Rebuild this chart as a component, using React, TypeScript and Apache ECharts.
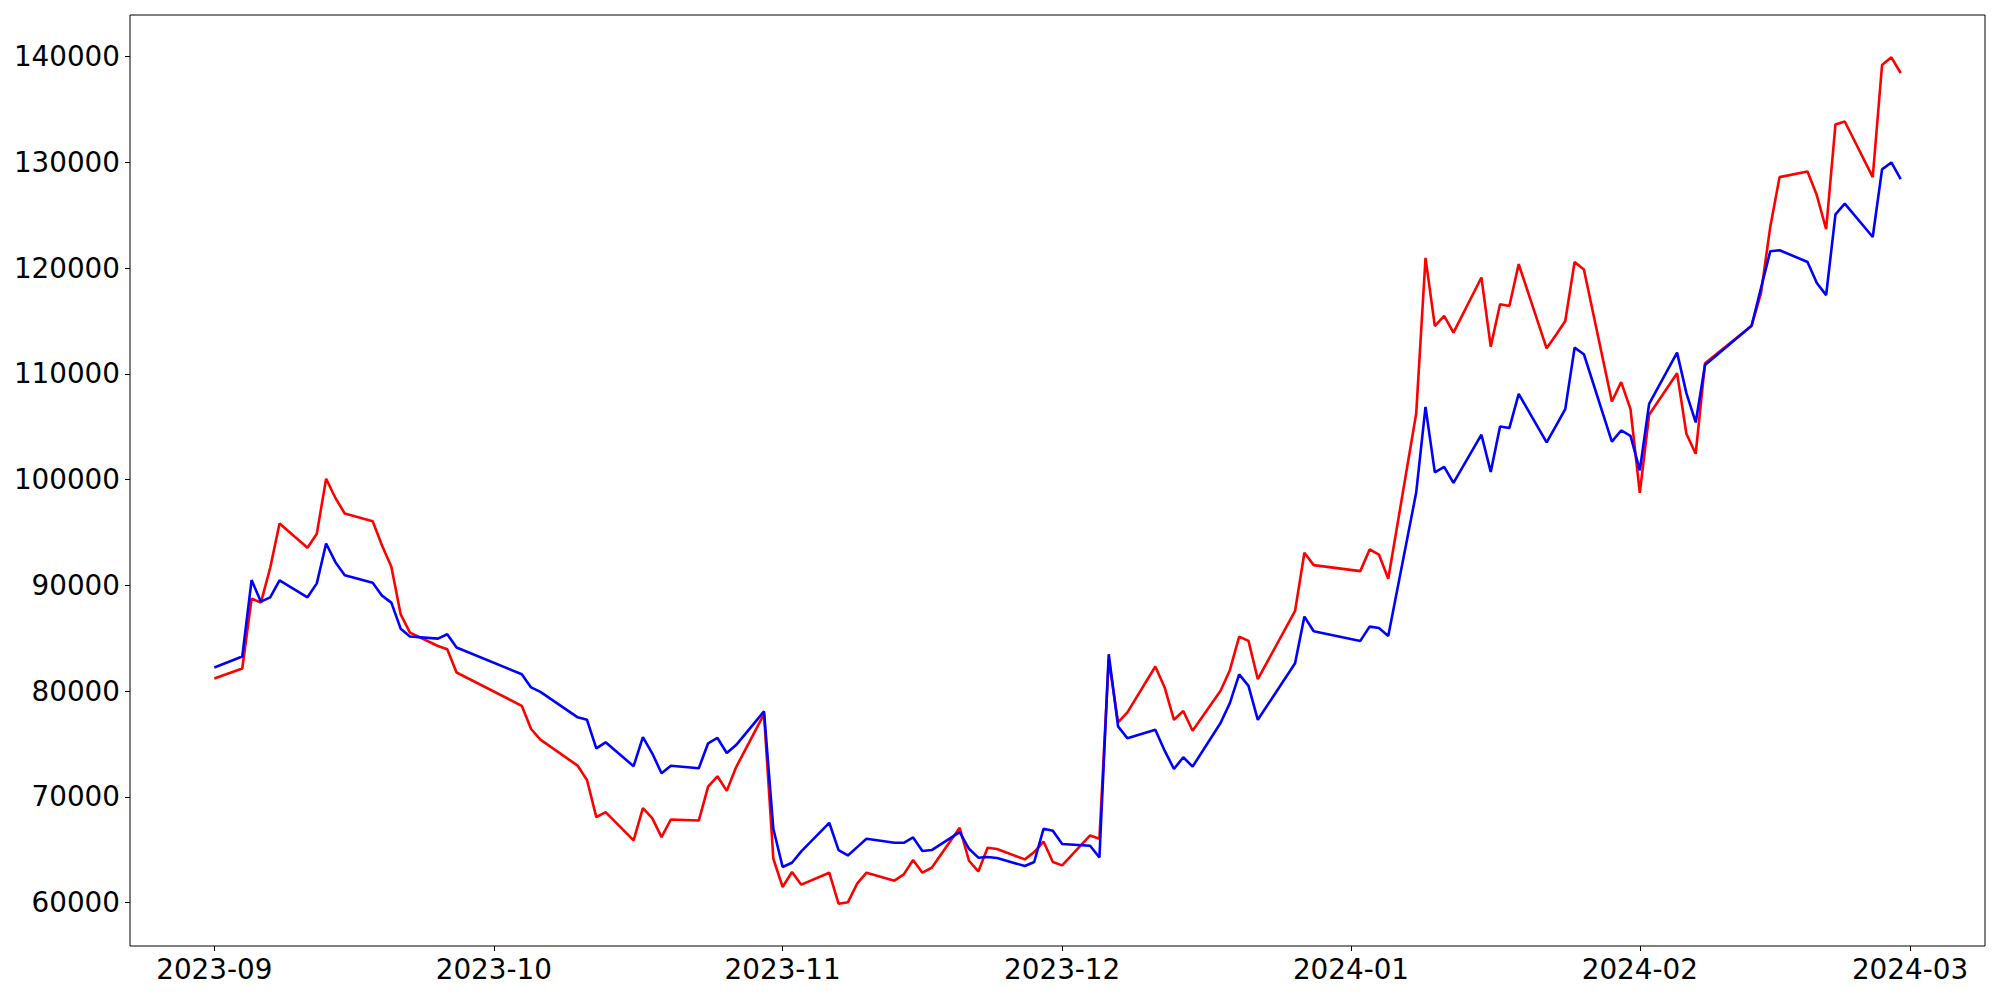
import React, { useEffect, useRef } from "react";
import * as echarts from "echarts";

// Trading days
const dates = [
  "2023-09-01", "2023-09-04", "2023-09-05", "2023-09-06", "2023-09-07", "2023-09-08",
  "2023-09-11", "2023-09-12", "2023-09-13", "2023-09-14", "2023-09-15",
  "2023-09-18", "2023-09-19", "2023-09-20", "2023-09-21", "2023-09-22",
  "2023-09-25", "2023-09-26", "2023-09-27",
  "2023-10-04", "2023-10-05", "2023-10-06",
  "2023-10-10", "2023-10-11", "2023-10-12", "2023-10-13",
  "2023-10-16", "2023-10-17", "2023-10-18", "2023-10-19", "2023-10-20",
  "2023-10-23", "2023-10-24", "2023-10-25", "2023-10-26", "2023-10-27",
  "2023-10-30", "2023-10-31", "2023-11-01", "2023-11-02", "2023-11-03",
  "2023-11-06", "2023-11-07", "2023-11-08", "2023-11-09", "2023-11-10",
  "2023-11-13", "2023-11-14", "2023-11-15", "2023-11-16", "2023-11-17",
  "2023-11-20", "2023-11-21", "2023-11-22", "2023-11-23", "2023-11-24",
  "2023-11-27", "2023-11-28", "2023-11-29", "2023-11-30", "2023-12-01",
  "2023-12-04", "2023-12-05", "2023-12-06", "2023-12-07", "2023-12-08",
  "2023-12-11", "2023-12-12", "2023-12-13", "2023-12-14", "2023-12-15",
  "2023-12-18", "2023-12-19", "2023-12-20", "2023-12-21", "2023-12-22",
  "2023-12-26", "2023-12-27", "2023-12-28",
  "2024-01-02", "2024-01-03", "2024-01-04", "2024-01-05",
  "2024-01-08", "2024-01-09", "2024-01-10", "2024-01-11", "2024-01-12",
  "2024-01-15", "2024-01-16", "2024-01-17", "2024-01-18", "2024-01-19",
  "2024-01-22", "2024-01-23", "2024-01-24", "2024-01-25", "2024-01-26",
  "2024-01-29", "2024-01-30", "2024-01-31", "2024-02-01", "2024-02-02",
  "2024-02-05", "2024-02-06", "2024-02-07", "2024-02-08",
  "2024-02-13", "2024-02-14", "2024-02-15", "2024-02-16",
  "2024-02-19", "2024-02-20", "2024-02-21", "2024-02-22", "2024-02-23",
  "2024-02-26", "2024-02-27", "2024-02-28", "2024-02-29",
];

const redValues = [
  81200, 82140, 88750, 88370, 91670, 95850,
  93560, 94880, 100090, 98270, 96790,
  96070, 93770, 91760, 87260, 85530,
  84270, 83960, 81760,
  78610, 76420, 75410,
  72950, 71600, 68090, 68560,
  65880, 68930, 67990, 66200, 67860,
  67760, 70970, 71950, 70570, 72800,
  77830, 64150, 61480, 62900, 61700,
  62830, 59900, 60030, 61790, 62830,
  62080, 62670, 64030, 62830, 63300,
  67080, 63960, 62950, 65190, 65070,
  64090, 64780, 65780, 63840, 63520,
  66350, 66040, 83000, 77050, 77990,
  82330, 80350, 77290, 78120, 76260,
  80030, 81980, 85160, 84750, 81130,
  87580, 93090, 91920,
  91350, 93400, 92920, 90630,
  106250, 120980, 114530, 115500, 113900,
  119120, 112580, 116580, 116420, 120380,
  112420, 113680, 115000, 120590, 119880,
  107390, 109220, 106670, 98750, 106130,
  110070, 104340, 102450, 111010,
  114560, 117610, 123900, 128610,
  129150, 126890, 123680, 133590, 133870,
  128610, 139210, 139940, 138460,
];

const blueValues = [
  82230, 83270, 90500, 88460, 88870, 90470,
  88870, 90190, 93960, 92200, 90970,
  90250, 89030, 88370, 85910, 85160,
  84970, 85380, 84120,
  81600, 80350, 79930,
  77520, 77290, 74590, 75160,
  72900, 75660, 74120, 72240, 72950,
  72710, 75070, 75570, 74150, 74900,
  78080, 66980, 63370, 63770, 64840,
  67550, 64970, 64460, 65250, 66040,
  65660, 65660, 66160, 64880, 64970,
  66670, 65090, 64250, 64310, 64220,
  63460, 63840, 66980, 66790, 65540,
  65380, 64270, 83490, 76670, 75540,
  76350, 74370, 72640, 73750, 72860,
  76980, 78870, 81580, 80500, 77290,
  82640, 87050, 85660,
  84750, 86100, 85970, 85220,
  98780, 106880, 100690, 101200, 99690,
  104250, 100730, 105030, 104880, 108110,
  103520, 105090, 106670, 112480, 111860,
  103600, 104650, 104150, 100880, 107170,
  112010, 108180, 105410, 110850,
  114560, 118090, 121600, 121700,
  120590, 118590, 117450, 125090, 126100,
  122950, 129340, 130000, 128430,
];

const xTickMonths = ["2023-09", "2023-10", "2023-11", "2023-12", "2024-01", "2024-02", "2024-03"];
const yTickValues = [60000, 70000, 80000, 90000, 100000, 110000, 120000, 130000, 140000];

function toTime(s: string): number {
  const parts = s.split("-").map(Number);
  return new Date(parts[0], parts[1] - 1, parts[2] || 1).getTime();
}

function fmtMonth(v: number): string {
  const d = new Date(v);
  return `${d.getFullYear()}-${String(d.getMonth() + 1).padStart(2, "0")}`;
}

export default function App() {
  const ref = useRef<HTMLDivElement>(null);

  useEffect(() => {
    if (!ref.current) return;
    const chart = echarts.init(ref.current, undefined, { renderer: "svg" });

    const times = dates.map(toTime);
    const tMin = times[0];
    const tMax = times[times.length - 1];
    const tPad = (tMax - tMin) * 0.05;

    const all = redValues.concat(blueValues);
    const vMin = Math.min(...all);
    const vMax = Math.max(...all);
    const vPad = (vMax - vMin) * 0.05;

    const monthTs = xTickMonths.map(toTime);
    const font = "DejaVu Sans";

    chart.setOption({
      animation: false,
      backgroundColor: "#ffffff",
      grid: {
        left: 130,
        right: 15,
        top: 15,
        bottom: 54,
        show: true,
        borderColor: "#000000",
        borderWidth: 1,
        backgroundColor: "transparent",
      },
      xAxis: {
        type: "value",
        min: tMin - tPad,
        max: tMax + tPad,
        axisLine: { show: false },
        splitLine: { show: false },
        axisTick: {
          show: true,
          length: 5,
          lineStyle: { color: "#000000", width: 1 },
          customValues: monthTs,
        },
        axisLabel: {
          customValues: monthTs,
          formatter: (v: number) => fmtMonth(v),
          fontFamily: font,
          fontSize: 27.8,
          color: "#000000",
          margin: 9,
        },
      },
      yAxis: {
        type: "value",
        min: vMin - vPad,
        max: vMax + vPad,
        axisLine: { show: false },
        splitLine: { show: false },
        axisTick: {
          show: true,
          length: 5,
          lineStyle: { color: "#000000", width: 1 },
          customValues: yTickValues,
        },
        axisLabel: {
          customValues: yTickValues,
          formatter: (v: number) => String(v),
          fontFamily: font,
          fontSize: 27.8,
          color: "#000000",
          margin: 10,
        },
      },
      series: [
        {
          name: "red",
          type: "line",
          data: times.map((t, i) => [t, redValues[i]]),
          showSymbol: false,
          symbol: "none",
          lineStyle: { color: "#ff0000", width: 2.6 },
          itemStyle: { color: "#ff0000" },
          emphasis: { disabled: true },
          silent: true,
        },
        {
          name: "blue",
          type: "line",
          data: times.map((t, i) => [t, blueValues[i]]),
          showSymbol: false,
          symbol: "none",
          lineStyle: { color: "#0000ff", width: 2.6 },
          itemStyle: { color: "#0000ff" },
          emphasis: { disabled: true },
          silent: true,
        },
      ],
    });

    return () => chart.dispose();
  }, []);

  return (
    <div
      ref={ref}
      style={{ position: "absolute", left: 0, top: 0, width: 2000, height: 1000 }}
    />
  );
}
